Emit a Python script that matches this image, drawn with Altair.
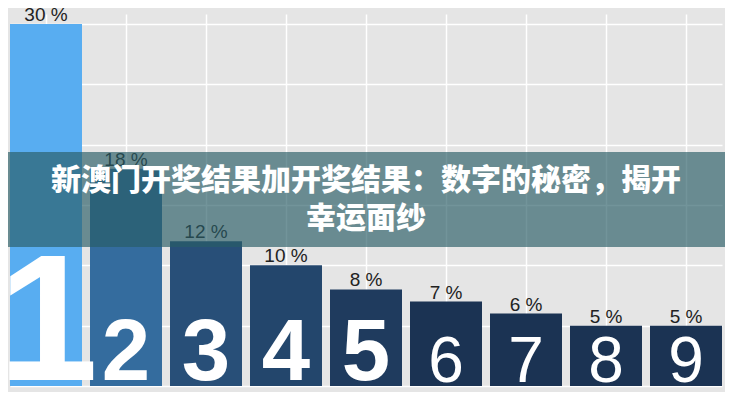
import altair as alt
import pandas as pd

digits = ["1", "2", "3", "4", "5", "6", "7", "8", "9"]
shares = [30, 18, 12, 10, 8, 7, 6, 5, 5]
bar_colors = ["#58adf1", "#346c9e", "#284f78", "#23466c", "#1f3b5e",
              "#1b3353", "#1b3353", "#1b3353", "#1b3353"]
title_line1 = "新澳门开奖结果加开奖结果：数字的秘密，揭开"
title_line2 = "幸运面纱"
grid_values = [0, 5, 10, 15, 20, 25, 30]

df = pd.DataFrame({"digit": digits, "share": shares})

W, H = 717, 384

x = alt.X("digit:N", sort=digits,
          scale=alt.Scale(range=[2, 714], paddingInner=0.1, paddingOuter=0),
          axis=alt.Axis(labels=False, ticks=False, domain=False, title=None,
                        grid=True, gridColor="white", gridWidth=1.5,
                        bandPosition=0.5))
y = alt.Y("share:Q",
          scale=alt.Scale(domain=[0, 30], range=[378, 16], nice=False, zero=False),
          axis=alt.Axis(labels=False, ticks=False, domain=False, title=None,
                        grid=True, gridColor="white", gridWidth=1.5,
                        values=grid_values))

base = alt.Chart(df)

bars = base.mark_bar().encode(
    x=x, y=y, y2=alt.datum(0),
    color=alt.Color("digit:N", scale=alt.Scale(domain=digits, range=bar_colors), legend=None),
)

labels = base.transform_calculate(lbl="datum.share + ' %'").mark_text(
    font="Liberation Sans", fontSize=19, color="#222222", baseline="alphabetic",
    align="center", dy=-3
).encode(x=alt.X("digit:N", sort=digits), y="share:Q", text="lbl:N")

big1 = base.transform_filter("datum.digit == '1'").mark_text(
    font="Liberation Sans", fontSize=180, fontWeight="bold", color="white",
    baseline="alphabetic", align="center", dy=-6, dx=2
).encode(x=alt.X("digit:N", sort=digits), y=alt.datum(0), text="digit:N")

big2 = base.transform_filter("datum.digit >= '2' && datum.digit <= '5'").mark_text(
    font="Liberation Sans", fontSize=87, fontWeight="bold", color="white",
    baseline="alphabetic", align="center", dy=-6
).encode(x=alt.X("digit:N", sort=digits), y=alt.datum(0), text="digit:N")

big3 = base.transform_filter("datum.digit >= '6'").mark_text(
    font="Liberation Sans", fontSize=64, fontWeight="normal", color="white",
    baseline="alphabetic", align="center", dy=-4
).encode(x=alt.X("digit:N", sort=digits), y=alt.datum(0), text="digit:N")

one = pd.DataFrame({"t": [0]})

banner = alt.Chart(one).mark_rect(
    color="#295c66", opacity=0.66
).encode(x=alt.value(0), x2=alt.value(W), y=alt.value(144), y2=alt.value(239))

title1 = alt.Chart(one).mark_text(
    font="Noto Sans CJK SC", fontSize=30, fontWeight=900, color="white",
    align="center", baseline="middle"
).encode(x=alt.value(358), y=alt.value(173), text=alt.value(title_line1))

title2 = alt.Chart(one).mark_text(
    font="Noto Sans CJK SC", fontSize=30, fontWeight=900, color="white",
    align="center", baseline="middle"
).encode(x=alt.value(358), y=alt.value(211), text=alt.value(title_line2))

chart = alt.layer(bars, labels, big1, big2, big3, banner, title1, title2).properties(
    width=W, height=H, autosize=alt.AutoSizeParams(type="none"), padding=0,
    background="#e5e5e5"
).configure_view(stroke=None, fill="#e5e5e5")

chart.save("out.html", embed_options={"renderer": "svg", "actions": False})
